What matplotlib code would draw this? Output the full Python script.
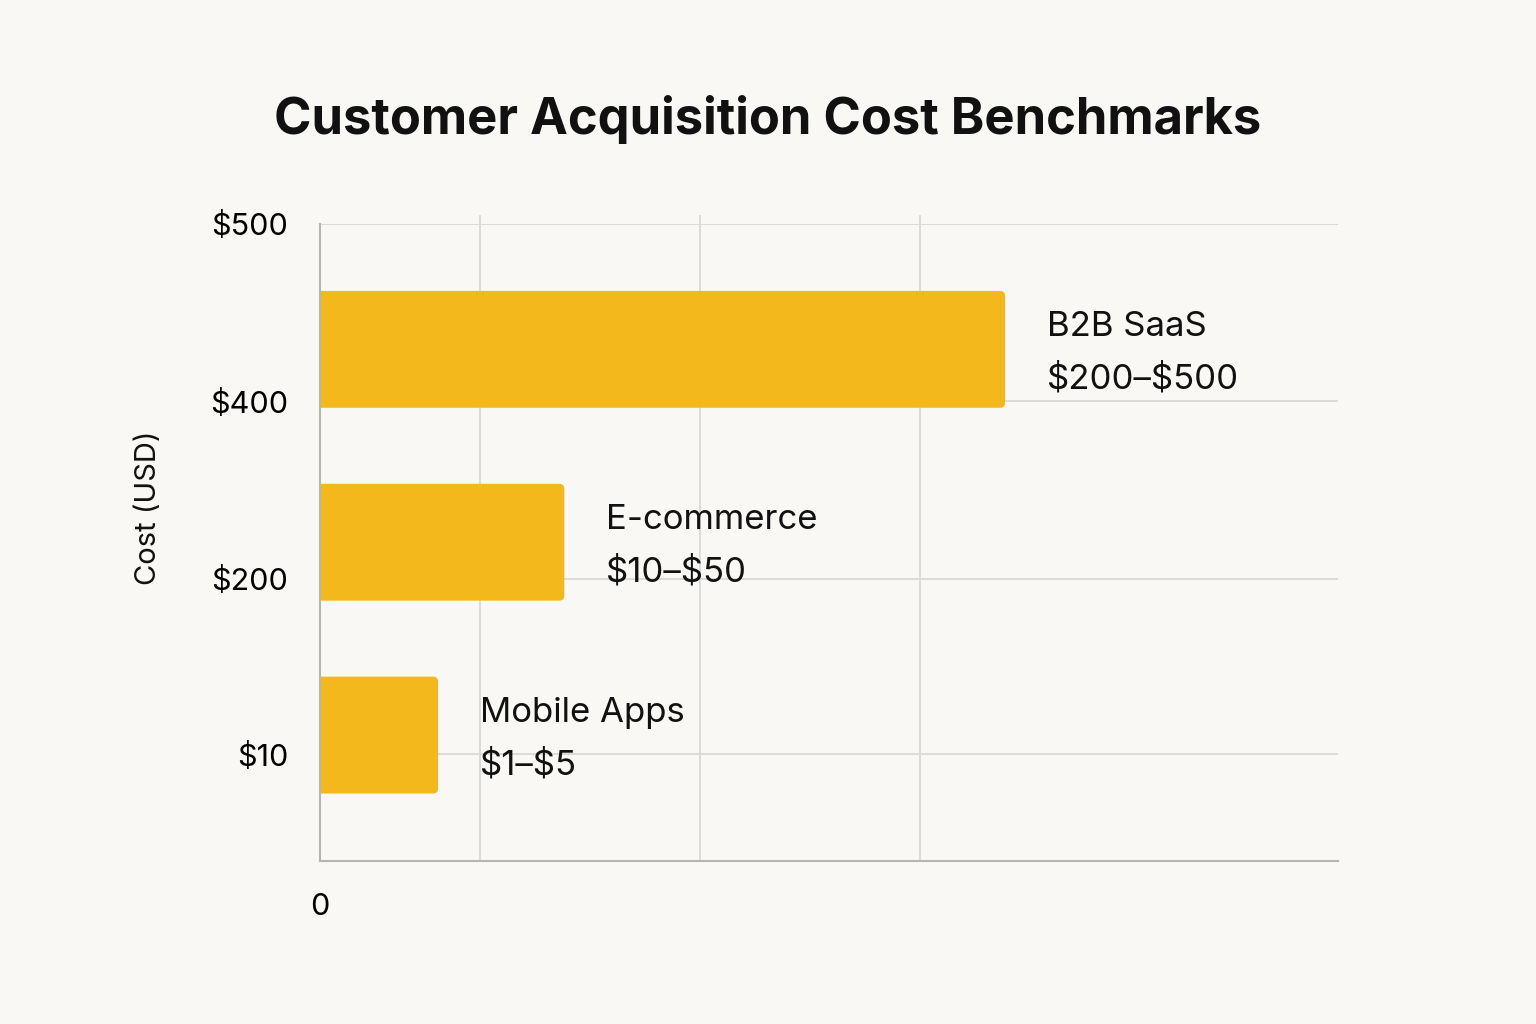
import matplotlib
matplotlib.use("Agg")
import matplotlib.pyplot as plt
from matplotlib.patches import FancyBboxPatch

# data (x in % of axis width)
categories = ["Mobile Apps", "E-commerce", "B2B SaaS"]
ranges = ["\\$1\u2013\\$5", "\\$10\u2013\\$50", "\\$200\u2013\\$500"]
bar_len = [11.6, 24.0, 67.3]
ytick_pos = [-0.1, 0.81, 1.73, 2.65]
ytick_lab = ["\\$10", "\\$200", "\\$400", "\\$500"]
xgrid_pos = [15.7, 37.3, 58.9]

bg = "#F9F8F4"
bar_col = "#F2B81C"
grid_col = "#D8D8D4"
spine_col = "#B5B5B2"

plt.rcParams["font.family"] = ["Inter", "DejaVu Sans"]

fig = plt.figure(figsize=(15.36, 10.24), dpi=100, facecolor=bg)
ax = fig.add_axes([320 / 1536, 1 - 861 / 1024, 1018 / 1536, 637 / 1024])
ax.set_facecolor(bg)
ax.set_xlim(0, 100)
ax.set_ylim(-0.653, 2.65)

pos = list(range(len(categories)))
bars = ax.barh(pos, bar_len, height=0.606, color=bar_col, zorder=2)

# redraw bars with rounded right corners (left ones fall outside the axes)
px_x = 1018 / 100
px_y = 637 / (2.65 + 0.653)
r = 5 / px_x
for b in bars:
    y0, w, h = b.get_y(), b.get_width(), b.get_height()
    b.set_visible(False)
    ax.add_patch(FancyBboxPatch((-3 * r, y0), w + 3 * r, h,
                                boxstyle=f"round,pad=0,rounding_size={r}",
                                mutation_aspect=px_x / px_y,
                                fc=bar_col, ec="none", zorder=2))

for p, w, name, rng in zip(pos, bar_len, categories, ranges):
    ax.annotate(name, xy=(w, p), xytext=(42, 13), textcoords="offset pixels",
                va="baseline", ha="left", fontsize=25, color="#111111")
    ax.annotate(rng, xy=(w, p), xytext=(42, -39), textcoords="offset pixels",
                va="baseline", ha="left", fontsize=25, color="#111111")

ax.set_yticks(ytick_pos)
ax.set_yticklabels(ytick_lab, fontsize=22)
ax.set_xticks([0])
ax.set_xticklabels(["0"], fontsize=22)
ax.tick_params(axis="y", length=0, pad=23)
ax.tick_params(axis="x", length=0, pad=23)
ax.grid(axis="y", color=grid_col, linewidth=1.3, zorder=0)
ax.set_axisbelow(True)
for gx in xgrid_pos:
    ax.axvline(gx, ymin=0, ymax=1.013, color=grid_col, linewidth=1.3,
               zorder=0, clip_on=False)

for s in ["top", "right"]:
    ax.spines[s].set_visible(False)
for s in ["left", "bottom"]:
    ax.spines[s].set_color(spine_col)
    ax.spines[s].set_linewidth(1.5)

fig.text(148 / 1536, 1 - 508 / 1024, "Cost (USD)", rotation=90,
         ha="center", va="center", fontsize=21, color="#111111")
fig.text(0.5, 1 - 120 / 1024, "Customer Acquisition Cost Benchmarks",
         ha="center", va="center", fontsize=36.5, fontweight="bold",
         color="#111111")

fig.savefig("out.png", dpi=100, facecolor=bg)
